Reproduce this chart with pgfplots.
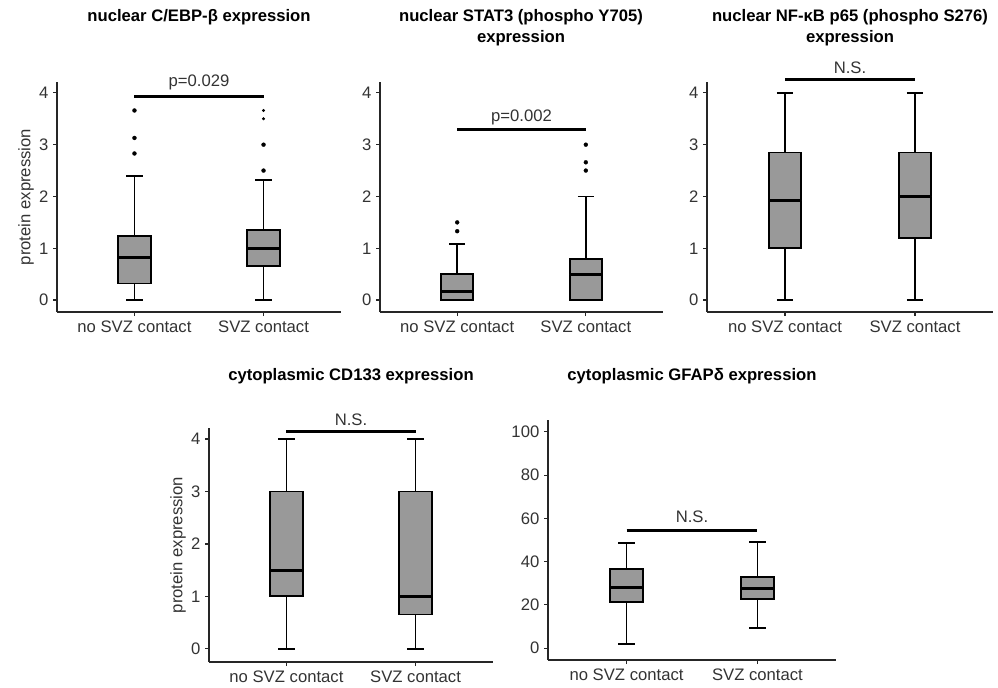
\documentclass[border=0pt]{standalone}
\usepackage{pgfplots}
\pgfplotsset{compat=1.18}
\usepgfplotslibrary{statistics}
\usepackage{fontspec}
\setmainfont{Liberation Sans}

\definecolor{boxgray}{HTML}{999999}
\definecolor{txtgray}{HTML}{333333}
\newcommand{\fs}{\fontsize{12.5}{15}\selectfont}

\tikzset{sig/.style={line width=2.2pt}}

\pgfplotsset{
  svz/.style={
    scale only axis,
    anchor=south west,
    axis lines=left,
    axis line style={-, line width=0.9pt, black!85},
    clip=false,
    xmin=0.4, xmax=2.6,
    xtick={1,2},
    xticklabels={no SVZ contact, SVZ contact},
    tick align=outside,
    major tick length=3pt,
    every tick/.style={line width=0.9pt, black!85},
    tick label style={font=\fs, text=txtgray},
    /pgf/number format/assume math mode=true,
    ylabel style={font=\fs, text=black!80},
    ylabel shift=-3pt,
    boxplot/draw direction=y,
  },
  bx/.style={
    draw=black, fill=boxgray, line width=1.4pt,
    mark=*, mark size=1.5pt, mark options={fill=black, line width=0.2pt},
    boxplot/every median/.style={line width=2.2pt},
  },
}

\begin{document}
\begin{tikzpicture}[x=0.75pt,y=0.75pt]
\path[use as bounding box] (0,0) rectangle (998,687);

% panel 1: C/EBP-beta
\begin{axis}[svz, at={(42.75pt,281.25pt)}, width=213pt, height=172.5pt,
  ymin=-0.23, ymax=4.21, ytick={0,1,2,3,4}, ylabel={protein expression}]
\addplot[bx, boxplot prepared={draw position=1, lower whisker=0, lower quartile=0.32,
  median=0.82, upper quartile=1.245, upper whisker=2.39, box extend=0.25, whisker extend=0.125}]
  table[row sep=\\, y index=0] {2.83\\3.13\\3.66\\};
\addplot[bx, boxplot prepared={draw position=2, lower whisker=0, lower quartile=0.665,
  median=1.0, upper quartile=1.355, upper whisker=2.32, box extend=0.25, whisker extend=0.125}]
  table[row sep=\\, y index=0] {2.5\\3.0\\};
\addplot[only marks, mark=*, mark size=0.9pt, black] coordinates {(2,3.5) (2,3.66)};
\draw[sig] (axis cs:1,3.935) -- (axis cs:2,3.935);
\node[anchor=base, font=\fs, text=txtgray, yshift=7.5pt] at (axis cs:1.5,3.935) {p=0.029};
\end{axis}

% panel 2: STAT3
\begin{axis}[svz, at={(285pt,281.25pt)}, width=212.25pt, height=172.5pt,
  ymin=-0.23, ymax=4.21, ytick={0,1,2,3,4}]
\addplot[bx, boxplot prepared={draw position=1, lower whisker=0, lower quartile=0,
  median=0.174, upper quartile=0.5, upper whisker=1.08, box extend=0.25, whisker extend=0.125}]
  table[row sep=\\, y index=0] {1.33\\1.5\\};
\addplot[bx, boxplot prepared={draw position=2, lower whisker=0, lower quartile=0,
  median=0.5, upper quartile=0.8, upper whisker=2.0, box extend=0.25, whisker extend=0.125}]
  table[row sep=\\, y index=0] {2.5\\2.66\\3.0\\};
\draw[sig] (axis cs:1,3.29) -- (axis cs:2,3.29);
\node[anchor=base, font=\fs, text=txtgray, yshift=6pt] at (axis cs:1.5,3.29) {p=0.002};
\end{axis}

% panel 3: NF-kB p65
\begin{axis}[svz, at={(530.25pt,281.25pt)}, width=214.5pt, height=172.5pt,
  ymin=-0.23, ymax=4.21, ytick={0,1,2,3,4}]
\addplot[bx, boxplot prepared={draw position=1, lower whisker=0, lower quartile=1.0,
  median=1.93, upper quartile=2.85, upper whisker=4.0, box extend=0.25, whisker extend=0.125}]
  coordinates {};
\addplot[bx, boxplot prepared={draw position=2, lower whisker=0, lower quartile=1.2,
  median=2.0, upper quartile=2.85, upper whisker=4.0, box extend=0.25, whisker extend=0.125}]
  coordinates {};
\draw[sig] (axis cs:1,4.25) -- (axis cs:2,4.25);
\node[anchor=base, font=\fs, text=txtgray, yshift=4.5pt] at (axis cs:1.5,4.25) {N.S.};
\end{axis}

% panel 4: CD133
\begin{axis}[svz, at={(156.75pt,18.75pt)}, width=213pt, height=175.5pt,
  ymin=-0.25, ymax=4.21, ytick={0,1,2,3,4}, ylabel={protein expression}]
\addplot[bx, boxplot prepared={draw position=1, lower whisker=0, lower quartile=1.0,
  median=1.5, upper quartile=3.0, upper whisker=4.0, box extend=0.25, whisker extend=0.125}]
  coordinates {};
\addplot[bx, boxplot prepared={draw position=2, lower whisker=0, lower quartile=0.655,
  median=1.0, upper quartile=3.0, upper whisker=4.0, box extend=0.25, whisker extend=0.125}]
  coordinates {};
\draw[sig] (axis cs:1,4.15) -- (axis cs:2,4.15);
\node[anchor=base, font=\fs, text=txtgray, yshift=4.5pt] at (axis cs:1.5,4.15) {N.S.};
\end{axis}

% panel 5: GFAP delta
\begin{axis}[svz, at={(411pt,20.25pt)}, width=216pt, height=180pt,
  ymin=-5.5, ymax=105.5, ytick={0,20,40,60,80,100}]
\addplot[bx, boxplot prepared={draw position=1, lower whisker=1.85, lower quartile=21.5,
  median=28.0, upper quartile=36.5, upper whisker=48.6, box extend=0.25, whisker extend=0.125}]
  coordinates {};
\addplot[bx, boxplot prepared={draw position=2, lower whisker=9.4, lower quartile=22.6,
  median=27.7, upper quartile=32.9, upper whisker=49.1, box extend=0.25, whisker extend=0.125}]
  coordinates {};
\draw[sig] (axis cs:1,54.6) -- (axis cs:2,54.6);
\node[anchor=base, font=\fs, text=txtgray, yshift=6pt] at (axis cs:1.5,54.6) {N.S.};
\end{axis}

% titles
\begin{scope}[every node/.style={anchor=base, font=\bfseries\fs}]
\node at (199,665) {nuclear C/EBP-β expression};
\node at (521,665) {nuclear STAT3 (phospho Y705)};
\node at (521,644) {expression};
\node at (850,665) {nuclear NF-κB p65 (phospho S276)};
\node at (850,644) {expression};
\node at (351,307) {cytoplasmic CD133 expression};
\node at (692,307) {cytoplasmic GFAPδ expression};
\end{scope}
\end{tikzpicture}
\end{document}
